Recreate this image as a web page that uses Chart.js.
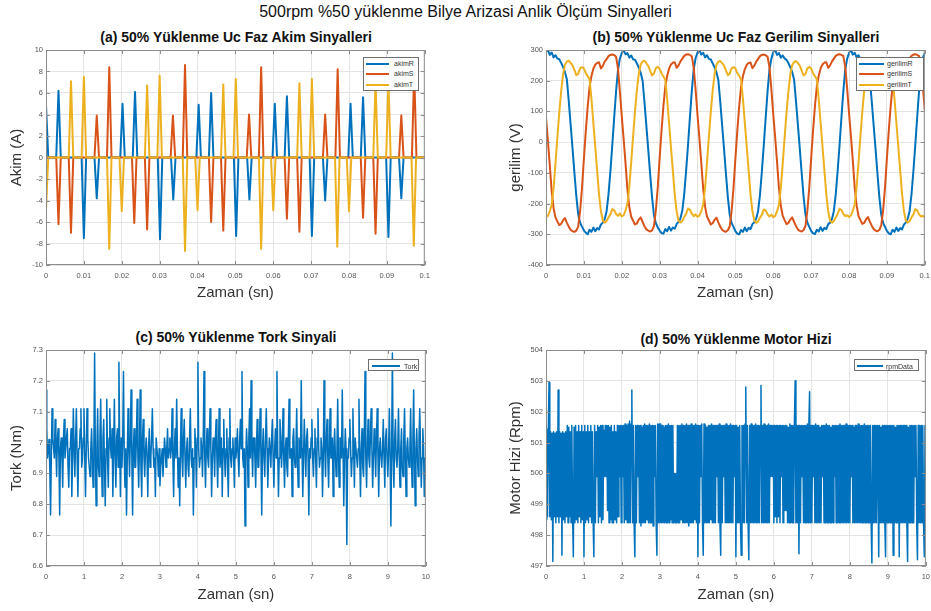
<!DOCTYPE html>
<html>
<head>
<meta charset="utf-8">
<script src="https://cdn.jsdelivr.net/npm/chart.js@4.4.1/dist/chart.umd.min.js"></script>
<style>
  html, body { margin: 0; padding: 0; background: #fff; }
  body { width: 931px; height: 611px; overflow: hidden; position: relative;
         font-family: 'Liberation Sans', Arial, Helvetica, sans-serif; }
  .panel { position: absolute; }
  .main-title { position: absolute; left: 0; top: 3px; width: 931px; text-align: center;
                font-size: 16px; color: #111; }
  .sub-title { position: absolute; width: 380px; text-align: center; font-size: 14px;
               font-weight: bold; color: #111; line-height: 16px; }
  .legend { position: absolute; background: #fff; border: 1px solid #6e6e6e; box-sizing: border-box;
            font-size: 7px; color: #333; }
  .legend .row { position: absolute; left: 0; right: 0; }
  .legend .sw { position: absolute; height: 2px; }
  .legend .lbl { position: absolute; white-space: nowrap; }
</style>
</head>
<body>
<div class="main-title">500rpm %50 yüklenme Bilye Arizasi Anlik Ölçüm Sinyalleri</div>

<div class="sub-title" style="left:46px; top:29px;">(a) 50% Yüklenme Uc Faz Akim Sinyalleri</div>
<div class="sub-title" style="left:546px; top:29px;">(b) 50% Yüklenme Uc Faz Gerilim Sinyalleri</div>
<div class="sub-title" style="left:46px; top:329px;">(c) 50% Yüklenme Tork Sinyali</div>
<div class="sub-title" style="left:546px; top:331px;">(d) 50% Yüklenme Motor Hizi</div>

<div class="panel" style="left:0px; top:40px; width:436px; height:270px;"><canvas id="akimChart"></canvas></div>
<div class="panel" style="left:500px; top:40px; width:436px; height:270px;"><canvas id="gerilimChart"></canvas></div>
<div class="panel" style="left:0px; top:340px; width:436px; height:271px;"><canvas id="torkChart"></canvas></div>
<div class="panel" style="left:500px; top:340px; width:436px; height:271px;"><canvas id="rpmChart"></canvas></div>

<script>
// ---- (a) phase currents: pulse peak times (s) and peak values (A)
const akimR_t = [0.0000, 0.0033, 0.0100, 0.0134, 0.0202, 0.0235, 0.0301, 0.0336, 0.0403, 0.0436,
                 0.0502, 0.0537, 0.0604, 0.0636, 0.0702, 0.0737, 0.0804, 0.0837, 0.0904, 0.0938];
const akimR_peak = [4.9, 6.2, -7.5, -3.8, 5.0, 6.1, -7.6, -3.9, 4.9, 6.0,
                    -7.3, -3.9, 5.0, 5.7, -7.3, -4.0, 5.0, 5.6, -7.4, -3.8];
const akimS_t = [0.0033, 0.0066, 0.0134, 0.0167, 0.0233, 0.0267, 0.0335, 0.0367, 0.0436, 0.0468,
                 0.0536, 0.0568, 0.0636, 0.0669, 0.0737, 0.0770, 0.0837, 0.0870, 0.0938, 0.0972];
const akimS_peak = [-6.2, -7.0, 3.9, 8.4, -6.1, -6.7, 3.9, 8.6, -6.0, -6.8,
                    4.0, 8.4, -5.7, -6.9, 4.0, 8.2, -5.6, -7.1, 3.9, 8.1];
const akimT_t = [0.0000, 0.0066, 0.0100, 0.0167, 0.0200, 0.0267, 0.0300, 0.0367, 0.0400, 0.0468,
                 0.0501, 0.0568, 0.0600, 0.0669, 0.0702, 0.0769, 0.0800, 0.0870, 0.0904, 0.0971];
const akimT_peak = [-4.9, 7.1, 7.5, -8.5, -5.0, 6.7, 7.6, -8.7, -4.9, 6.8,
                    7.3, -8.5, -4.9, 6.9, 7.3, -8.3, -5.0, 7.0, 7.1, -8.2];
const akimHalfWidth = 0.0006;   // half base width of one current pulse (s)

// ---- (b) phase voltages, one sample every 0.5 ms from 0 to 0.1 s
const gerilimDt = 0.0005;
const gerilimR = [
  295, 300, 284, 292, 276, 283, 272, 270, 258, 245, 228, 205, 135, 57, -20, -100, -175, -235, -262, -275,
  -287, -295, -300, -285, -292, -278, -290, -280, -284, -268, -262, -250, -225, -170, -95, -10, 80, 165, 235, 272,
  290, 300, 286, 290, 275, 282, 270, 268, 256, 243, 226, 200, 130, 52, -25, -105, -180, -238, -264, -277,
  -288, -296, -298, -283, -290, -276, -288, -278, -282, -266, -260, -248, -222, -168, -92, -8, 82, 168, 238, 274,
  292, 300, 285, 291, 276, 283, 271, 269, 257, 244, 227, 202, 132, 55, -22, -102, -178, -236, -263, -276,
  -290, -298, -300, -286, -292, -278, -290, -279, -283, -267, -261, -249, -224, -170, -94, -9, 80, 166, 236, 272,
  293, 300, 284, 290, 275, 282, 272, 268, 257, 244, 228, 203, 133, 56, -21, -101, -177, -236, -262, -276,
  -289, -297, -299, -285, -291, -277, -289, -279, -283, -267, -262, -250, -224, -169, -93, -9, 81, 166, 236, 271,
  290, 300, 285, 291, 276, 283, 271, 269, 257, 244, 227, 203, 133, 55, -22, -102, -178, -236, -263, -276,
  -289, -297, -300, -285, -292, -278, -289, -280, -284, -268, -262, -249, -224, -169, -93, -8, 82, 168, 238, 275,
  290];
const gerilimS = [
  80, 5, -75, -160, -215, -245, -258, -270, -266, -255, -247, -262, -275, -285, -290, -292, -288, -275, -225, -150,
  -55, 35, 115, 180, 215, 239, 252, 258, 260, 240, 248, 262, 270, 280, 284, 285, 284, 278, 240, 165,
  85, 10, -70, -155, -212, -243, -256, -268, -265, -252, -245, -260, -274, -284, -288, -291, -287, -273, -222, -148,
  -52, 38, 118, 182, 216, 240, 253, 259, 260, 242, 250, 263, 272, 281, 285, 286, 284, 279, 242, 170,
  88, 12, -68, -152, -210, -242, -255, -268, -264, -253, -246, -261, -275, -285, -290, -292, -287, -274, -224, -150,
  -54, 36, 116, 181, 215, 238, 252, 258, 259, 241, 249, 262, 271, 280, 284, 285, 283, 278, 243, 172,
  90, 15, -65, -150, -208, -240, -254, -267, -263, -252, -245, -260, -273, -284, -289, -291, -286, -273, -223, -149,
  -53, 37, 117, 182, 216, 240, 253, 259, 260, 242, 250, 263, 272, 281, 285, 286, 284, 280, 245, 175,
  95, 20, -60, -148, -206, -240, -254, -266, -263, -251, -244, -259, -272, -283, -288, -290, -286, -272, -222, -148,
  -52, 38, 118, 183, 217, 240, 253, 259, 261, 242, 250, 263, 272, 281, 285, 286, 284, 280, 248, 180,
  105];
const gerilimT = [
  -245, -240, -225, -205, -150, -70, 15, 95, 165, 220, 252, 262, 265, 258, 250, 235, 218, 222, 240, 244,
  240, 225, 215, 205, 140, 62, -15, -92, -170, -225, -255, -262, -257, -245, -235, -218, -222, -234, -240, -232,
  -242, -238, -222, -200, -145, -65, 20, 100, 170, 222, 253, 263, 265, 257, 248, 232, 217, 224, 241, 245,
  239, 224, 214, 203, 138, 60, -18, -95, -172, -227, -256, -262, -256, -244, -233, -216, -220, -233, -241, -235,
  -243, -239, -224, -203, -148, -68, 17, 97, 167, 221, 252, 262, 264, 257, 249, 234, 218, 223, 240, 244,
  240, 225, 216, 204, 139, 61, -16, -93, -171, -226, -255, -263, -258, -246, -236, -219, -223, -235, -242, -236,
  -244, -240, -225, -204, -149, -69, 16, 96, 166, 220, 251, 261, 264, 257, 249, 233, 217, 222, 240, 245,
  240, 224, 215, 204, 140, 62, -15, -92, -170, -226, -256, -262, -257, -245, -234, -217, -221, -234, -241, -238,
  -244, -239, -224, -202, -147, -67, 18, 98, 168, 221, 252, 262, 265, 258, 250, 234, 218, 223, 241, 245,
  241, 226, 216, 205, 141, 63, -14, -91, -169, -225, -255, -262, -257, -245, -235, -218, -222, -235, -242, -240,
  -245];

// ---- (c) torque (Nm), one sample every 0.02 s from 0 to 10 s
const torkDt = 0.02;
const tork = [
  7.17, 7.045, 6.95, 6.98, 7.01, 6.92, 6.765, 6.95, 7.11, 7.015, 6.98, 6.95, 7.075, 6.98, 6.89, 7.015, 7.045, 6.95, 6.765, 6.98, 7.015, 6.95, 6.855, 7.015, 7.075,
  6.95, 6.98, 7.015, 7.045, 6.92, 6.855, 6.98, 6.98, 7.045, 6.825, 6.95, 7.11, 6.98, 6.89, 7.015, 7.11, 6.95, 6.825, 6.98, 6.98, 7.045, 7.11, 6.92, 6.95, 7.015,
  7.11, 6.95, 6.825, 6.98, 7.11, 7.015, 6.95, 6.92, 6.89, 6.98, 7.045, 6.95, 6.855, 6.98, 7.29, 6.95, 6.795, 6.98, 7.11, 6.92, 6.89, 7.015, 7.14, 6.95, 6.825,
  7.015, 7.075, 6.92, 6.795, 6.98, 7.14, 6.95, 6.855, 7.015, 7.11, 6.98, 6.95, 7.045, 6.825, 6.98, 7.14, 6.95, 6.855, 7.015, 7.045, 6.92, 7.26, 6.98, 6.825, 7.015,
  6.92, 7.015, 7.23, 6.95, 6.855, 6.98, 6.765, 6.95, 7.11, 6.98, 6.89, 7.015, 7.17, 6.95, 6.765, 6.98, 7.045, 6.92, 6.92, 7.015, 7.14, 6.95, 6.855, 6.98, 7.17,
  6.92, 6.825, 7.015, 7.075, 6.95, 6.89, 6.98, 7.015, 6.95, 6.825, 6.98, 7.045, 6.92, 6.95, 7.015, 7.11, 6.98, 6.92, 6.95, 6.825, 7.015, 7.015, 6.95, 6.89, 6.98,
  6.86, 6.92, 6.95, 6.98, 6.89, 6.95, 7.015, 6.98, 6.92, 6.98, 7.045, 6.95, 6.98, 7.015, 6.95, 6.98, 7.11, 6.95, 6.825, 6.98, 7.045, 6.95, 7.14, 6.98, 6.855,
  6.95, 6.795, 6.98, 7.11, 6.95, 6.89, 7.015, 7.075, 6.95, 6.855, 6.98, 7.015, 6.92, 6.89, 7.015, 7.11, 6.95, 6.92, 6.98, 6.765, 6.95, 7.045, 6.98, 6.855, 7.015,
  7.26, 6.98, 6.92, 6.95, 7.015, 6.98, 6.89, 7.015, 7.23, 6.95, 6.855, 6.98, 7.045, 6.95, 6.92, 7.015, 7.11, 6.98, 6.825, 6.95, 7.015, 6.98, 6.89, 7.015, 7.075,
  6.95, 6.855, 6.98, 7.11, 6.92, 6.95, 7.015, 6.825, 6.98, 7.075, 6.95, 6.89, 6.98, 7.045, 6.92, 6.825, 7.015, 7.11, 6.95, 6.92, 6.98, 7.015, 6.95, 6.855, 7.015,
  6.95, 6.98, 7.045, 6.95, 6.89, 7.015, 7.075, 6.98, 7.23, 6.95, 6.92, 6.98, 6.73, 6.95, 7.045, 6.98, 6.855, 7.015, 7.11, 6.95, 7.2, 6.98, 6.89, 7.015, 7.015,
  6.95, 6.855, 6.98, 7.075, 6.92, 6.92, 7.015, 7.11, 6.95, 6.765, 6.98, 7.045, 6.95, 6.89, 7.015, 7.11, 6.98, 6.855, 6.95, 7.015, 6.98, 6.92, 7.015, 7.075, 6.95,
  6.855, 6.98, 7.045, 6.95, 7.23, 6.98, 6.825, 6.95, 7.075, 7.015, 6.92, 6.98, 7.11, 6.95, 6.855, 6.98, 7.015, 6.92, 6.89, 7.015, 7.14, 6.95, 6.95, 6.98, 6.825,
  7.015, 7.045, 6.95, 6.92, 6.98, 7.11, 6.95, 6.855, 7.015, 6.98, 6.95, 7.2, 6.98, 6.825, 6.95, 7.075, 6.98, 6.89, 7.015, 7.045, 6.95, 6.765, 6.98, 6.95, 7.015,
  7.075, 6.95, 6.89, 6.98, 7.045, 6.95, 6.855, 7.015, 7.11, 6.98, 6.92, 6.95, 7.015, 6.98, 6.825, 6.95, 7.2, 6.98, 6.89, 7.015, 7.075, 6.95, 6.855, 6.98, 7.11,
  6.95, 6.95, 7.015, 6.825, 6.98, 7.045, 6.95, 6.89, 6.98, 7.14, 6.95, 6.855, 7.015, 7.015, 6.95, 7.17, 6.98, 6.795, 6.95, 7.045, 6.98, 6.67, 6.95, 6.95, 7.015,
  7.075, 6.98, 6.89, 6.95, 7.11, 6.98, 6.855, 7.015, 7.015, 6.95, 6.92, 6.98, 7.14, 6.95, 6.825, 6.98, 7.045, 6.92, 6.89, 7.015, 7.23, 6.95, 6.855, 6.98, 7.075,
  6.95, 6.92, 7.015, 7.11, 6.98, 6.855, 6.95, 7.045, 6.98, 6.89, 7.015, 7.11, 6.95, 6.825, 6.98, 7.015, 6.95, 6.92, 6.98, 7.075, 6.95, 6.855, 7.015, 7.045, 6.95,
  6.89, 6.98, 7.11, 6.95, 6.73, 6.98, 7.29, 6.95, 6.855, 7.015, 7.075, 6.95, 6.92, 6.98, 7.11, 6.95, 6.855, 6.98, 7.045, 6.92, 6.89, 7.015, 7.11, 6.95, 6.825,
  6.98, 7.015, 6.95, 6.92, 6.98, 7.11, 6.95, 6.855, 7.015, 7.17, 6.95, 6.795, 6.98, 7.045, 6.95, 6.89, 7.015, 7.11, 6.98, 6.855, 6.95, 7.045, 6.98, 6.825, 6.95,
  7.14];

// ---- (d) motor speed (rpm), one sample every 0.02 s from 0 to 10 s
const rpmDt = 0.02;
const rpmData = [
  498.5, 501.45, 498.6, 501.3, 502.95, 498.6, 501.35, 498.5, 501.3, 497.15,
  501.35, 498.6, 501.3, 498.4, 501.35, 498.6, 502.7, 498.4, 501.35, 498.6,
  501.3, 497.35, 501.35, 498.5, 501.3, 498.4, 501.35, 498.6, 501.55, 498.4,
  501.5, 498.6, 501.35, 498.4, 501.55, 498.6, 497.3, 501.5, 498.4, 501.55,
  498.5, 501.35, 498.4, 501.55, 498.6, 501.35, 498.4, 501.55, 498.5, 501.35,
  497.3, 501.55, 498.4, 501.35, 498.5, 501.55, 498.4, 501.35, 498.6, 501.55,
  498.4, 501.35, 498.5, 497.3, 501.55, 498.4, 501.35, 499.9, 501.55, 498.4,
  501.5, 498.6, 501.55, 498.4, 501.55, 498.5, 501.4, 499.9, 501.55, 499.9,
  501.55, 498.8, 501.55, 498.4, 501.5, 498.5, 501.55, 498.4, 501.35, 498.4,
  501.55, 498.5, 501.35, 498.4, 501.55, 498.6, 501.55, 499.9, 501.55, 498.4,
  501.55, 499.9, 501.55, 498.4, 501.6, 498.5, 501.55, 498.4, 501.6, 498.4,
  501.7, 498.4, 501.6, 502.7, 498.4, 501.55, 498.3, 497.3, 501.55, 498.4,
  501.55, 499.9, 501.55, 498.4, 501.55, 498.3, 501.5, 498.4, 501.55, 498.4,
  501.6, 498.4, 501.55, 498.5, 501.55, 498.4, 501.6, 498.4, 501.55, 498.4,
  501.55, 498.3, 501.55, 499.9, 501.55, 498.4, 497.35, 501.6, 498.4, 501.6,
  498.4, 501.6, 498.4, 501.55, 498.4, 501.5, 498.4, 501.55, 498.4, 501.55,
  498.4, 501.6, 498.4, 501.55, 498.5, 501.55, 498.4, 501.55, 498.4, 500.0,
  498.4, 500.0, 498.4, 501.55, 498.4, 501.55, 498.4, 501.55, 498.5, 501.6,
  498.4, 501.55, 498.4, 501.55, 498.4, 501.6, 498.4, 501.55, 498.3, 501.55,
  498.4, 501.6, 498.4, 501.55, 498.4, 501.55, 498.5, 501.6, 498.4, 501.55,
  497.3, 501.55, 498.4, 501.55, 499.9, 501.6, 498.4, 497.35, 501.6, 498.4,
  501.55, 498.4, 501.5, 498.4, 501.55, 498.4, 501.55, 498.5, 501.6, 498.4,
  501.55, 498.4, 501.55, 498.4, 501.55, 499.9, 501.55, 498.4, 501.6, 498.4,
  497.35, 501.55, 498.4, 501.55, 499.9, 501.55, 498.4, 501.6, 498.4, 501.55,
  498.4, 501.55, 498.4, 501.6, 498.4, 501.55, 498.4, 501.55, 499.9, 501.55,
  497.3, 501.55, 498.4, 501.5, 498.4, 501.55, 498.4, 497.35, 501.55, 498.4,
  501.55, 498.4, 501.6, 502.8, 498.4, 501.55, 498.4, 497.2, 501.55, 498.4,
  501.6, 498.4, 501.55, 498.4, 501.55, 498.4, 501.6, 498.4, 501.55, 498.4,
  501.55, 498.4, 501.55, 502.85, 498.4, 501.55, 498.4, 501.6, 498.4, 501.55,
  498.4, 501.55, 498.4, 501.6, 498.4, 501.55, 499.9, 501.55, 499.9, 501.55,
  498.4, 501.55, 498.6, 501.55, 498.4, 501.55, 498.6, 501.55, 498.4, 501.55,
  499.9, 501.55, 498.4, 501.55, 498.8, 501.55, 498.8, 501.55, 498.4, 501.5,
  498.4, 501.6, 498.4, 501.55, 498.4, 501.55, 498.4, 501.6, 503.0, 498.4,
  501.55, 498.4, 501.55, 497.4, 501.55, 498.4, 501.55, 499.9, 501.55, 498.4,
  501.55, 498.4, 501.55, 498.4, 501.6, 498.4, 501.55, 502.65, 498.4, 501.55,
  498.4, 501.55, 499.9, 501.55, 498.4, 501.6, 498.4, 501.55, 498.4, 501.55,
  498.4, 501.5, 498.4, 501.55, 499.9, 501.55, 498.4, 501.55, 498.4, 501.6,
  498.4, 501.55, 498.4, 501.55, 498.4, 501.5, 498.4, 501.55, 498.4, 501.55,
  499.9, 501.55, 498.4, 501.55, 498.4, 501.55, 498.4, 501.6, 498.4, 501.55,
  498.4, 501.55, 498.4, 501.55, 498.4, 501.6, 498.4, 501.55, 498.4, 501.55,
  498.4, 501.55, 499.9, 501.55, 498.4, 501.5, 498.4, 501.55, 498.4, 501.55,
  498.4, 501.6, 498.4, 501.55, 498.4, 501.55, 498.4, 501.55, 498.4, 501.6,
  498.4, 501.55, 498.4, 501.55, 498.4, 501.55, 498.4, 501.55, 498.4, 497.1,
  501.55, 498.4, 501.55, 498.4, 501.55, 498.4, 501.55, 499.9, 497.3, 501.55,
  498.4, 501.5, 498.4, 501.55, 498.4, 501.55, 498.4, 497.3, 501.55, 498.4,
  501.55, 498.4, 501.55, 498.4, 501.55, 498.4, 501.55, 497.35, 501.55, 498.4,
  501.5, 498.4, 501.55, 498.4, 501.55, 497.3, 501.55, 498.4, 501.55, 498.4,
  501.55, 498.4, 501.55, 498.4, 501.55, 498.4, 497.15, 501.5, 498.4, 501.55,
  498.4, 501.55, 498.4, 501.55, 498.4, 501.55, 499.9, 501.55, 498.4, 497.2,
  501.55, 498.4, 501.55, 498.4, 501.55, 498.4, 501.55, 498.4, 497.3, 501.55,
  500.0];

// ---- axis ticks
const akimTicksX = [0, 0.01, 0.02, 0.03, 0.04, 0.05, 0.06, 0.07, 0.08, 0.09, 0.1];
const akimTickLabelsX = ['0', '0.01', '0.02', '0.03', '0.04', '0.05', '0.06', '0.07', '0.08', '0.09', '0.1'];
const akimTicksY = [-10, -8, -6, -4, -2, 0, 2, 4, 6, 8, 10];
const gerilimTicksY = [-400, -300, -200, -100, 0, 100, 200, 300];
const torkTicksY = [6.6, 6.7, 6.8, 6.9, 7.0, 7.1, 7.2, 7.3];
const torkTickLabelsY = ['6.6', '6.7', '6.8', '6.9', '7', '7.1', '7.2', '7.3'];
const rpmTicksY = [497, 498, 499, 500, 501, 502, 503, 504];
const secTicksX = [0, 1, 2, 3, 4, 5, 6, 7, 8, 9, 10];

// MATLAB default colours
const blue = '#0072BD', orange = '#D95319', yellow = '#EDB120';

Chart.defaults.font.family = "'Liberation Sans', Arial, Helvetica, sans-serif";
Chart.defaults.animation = false;

// pulses -> line points (baseline, peak, baseline)
function pulses(times, peaks) {
  const pts = [{ x: -0.002, y: 0 }];
  times.forEach((t, i) => {
    pts.push({ x: t - akimHalfWidth, y: 0 }, { x: t, y: peaks[i] }, { x: t + akimHalfWidth, y: 0 });
  });
  pts.push({ x: 0.102, y: 0 });
  return pts;
}
function series(values, dt) {
  return values.map((v, i) => ({ x: i * dt, y: v }));
}

// box round the plot and inward tick marks, like MATLAB
const matlabBox = {
  id: 'matlabBox',
  afterDatasetsDraw(chart) {
    const { ctx, chartArea: a, scales } = chart;
    ctx.save();
    ctx.strokeStyle = '#8c8c8c';
    ctx.lineWidth = 1;
    ctx.beginPath();
    scales.x.ticks.forEach(t => {
      const p = Math.round(scales.x.getPixelForValue(t.value)) + 0.5;
      ctx.moveTo(p, a.bottom); ctx.lineTo(p, a.bottom - 4);
      ctx.moveTo(p, a.top); ctx.lineTo(p, a.top + 4);
    });
    scales.y.ticks.forEach(t => {
      const p = Math.round(scales.y.getPixelForValue(t.value)) + 0.5;
      ctx.moveTo(a.left, p); ctx.lineTo(a.left + 4, p);
      ctx.moveTo(a.right, p); ctx.lineTo(a.right - 4, p);
    });
    ctx.stroke();
    ctx.strokeRect(a.left + 0.5, a.top + 0.5, a.right - a.left - 1, a.bottom - a.top - 1);
    ctx.restore();
  }
};

function axis(min, max, ticks, labels, title, isX, titlePad) {
  return {
    type: 'linear', min: min, max: max,
    afterBuildTicks: s => { s.ticks = ticks.map(v => ({ value: v })); },
    afterFit: s => { if (isX) s.height = 45; else s.width = 46; },
    ticks: {
      autoSkip: false, maxRotation: 0, color: '#555', font: { size: 7.5 },
      padding: isX ? 6 : 3,
      callback: (v, i) => labels[i]
    },
    grid: { color: '#e4e4e4', drawTicks: false },
    border: { display: false },
    title: {
      display: true, text: title, color: '#333', font: { size: 15 },
      padding: isX ? { top: 0, bottom: titlePad } : { top: titlePad, bottom: 0 }
    }
  };
}

function makeChart(id, datasets, xAxis, yAxis) {
  return new Chart(document.getElementById(id), {
    type: 'scatter',
    data: { datasets: datasets },
    options: {
      responsive: true,
      maintainAspectRatio: false,
      layout: { padding: { top: 10, right: 10, left: 0, bottom: 0 } },
      elements: { point: { radius: 0 }, line: { tension: 0, borderJoinStyle: 'round' } },
      plugins: { legend: { display: false }, tooltip: { enabled: false }, title: { display: false } },
      scales: { x: xAxis, y: yAxis }
    },
    plugins: [matlabBox]
  });
}

function addLegend(chart, cfg) {
  const box = document.createElement('div');
  box.className = 'legend';
  Object.assign(box.style, { left: cfg.left + 'px', top: cfg.top + 'px', width: cfg.width + 'px', height: cfg.height + 'px' });
  chart.data.datasets.forEach((ds, i) => {
    const row = document.createElement('div');
    row.className = 'row';
    row.style.top = (cfg.pad + i * cfg.rowH) + 'px';
    row.style.height = cfg.rowH + 'px';
    row.innerHTML = '<span class="sw" style="left:' + cfg.swL + 'px;width:' + cfg.swW + 'px;top:' + (cfg.rowH / 2 - 1) +
      'px;background:' + ds.borderColor + '"></span><span class="lbl" style="left:' + cfg.txtL +
      'px;line-height:' + cfg.rowH + 'px">' + ds.label + '</span>';
    box.appendChild(row);
  });
  document.body.appendChild(box);
}

const lineDs = (label, data, color, order, width) => ({
  label: label, data: data, borderColor: color, backgroundColor: color,
  showLine: true, borderWidth: width, pointRadius: 0, order: order
});

// (a)
const akimChart = makeChart('akimChart', [
  lineDs('akimR', pulses(akimR_t, akimR_peak), blue, 3, 2),
  lineDs('akimS', pulses(akimS_t, akimS_peak), orange, 2, 2),
  lineDs('akimT', pulses(akimT_t, akimT_peak), yellow, 1, 2)
], axis(0, 0.1, akimTicksX, akimTickLabelsX, 'Zaman (sn)', true, 8),
   axis(-10, 10, akimTicksY, akimTicksY.map(String), 'Akim (A)', false, 8));

// (b)
const gerilimChart = makeChart('gerilimChart', [
  lineDs('gerilimR', series(gerilimR, gerilimDt), blue, 3, 2),
  lineDs('gerilimS', series(gerilimS, gerilimDt), orange, 2, 2),
  lineDs('gerilimT', series(gerilimT, gerilimDt), yellow, 1, 2)
], axis(0, 0.1, akimTicksX, akimTickLabelsX, 'Zaman (sn)', true, 8),
   axis(-400, 300, gerilimTicksY, gerilimTicksY.map(String), 'gerilim (V)', false, 7));

// (c)
const torkChart = makeChart('torkChart', [
  lineDs('Tork', series(tork, torkDt), blue, 1, 1.5)
], axis(0, 10, secTicksX, secTicksX.map(String), 'Zaman (sn)', true, 7),
   axis(6.6, 7.3, torkTicksY, torkTickLabelsY, 'Tork (Nm)', false, 8));

// (d)
const rpmChart = makeChart('rpmChart', [
  lineDs('rpmData', series(rpmData, rpmDt), blue, 1, 1.5)
], axis(0, 10, secTicksX, secTicksX.map(String), 'Zaman (sn)', true, 7),
   axis(497, 504, rpmTicksY, rpmTicksY.map(String), 'Motor Hizi (Rpm)', false, 7));

addLegend(akimChart,    { left: 363, top: 57,  width: 56, height: 34, pad: 0.5, rowH: 10.5, swL: 2, swW: 23, txtL: 30 });
addLegend(gerilimChart, { left: 856, top: 57,  width: 68, height: 34, pad: 0.5, rowH: 10.5, swL: 2, swW: 25, txtL: 30 });
addLegend(torkChart,    { left: 368, top: 359, width: 51, height: 12, pad: 0.5, rowH: 11,   swL: 3, swW: 28, txtL: 35 });
addLegend(rpmChart,     { left: 854, top: 359, width: 65, height: 12, pad: 0.5, rowH: 11,   swL: 2, swW: 26, txtL: 31 });
</script>
</body>
</html>
